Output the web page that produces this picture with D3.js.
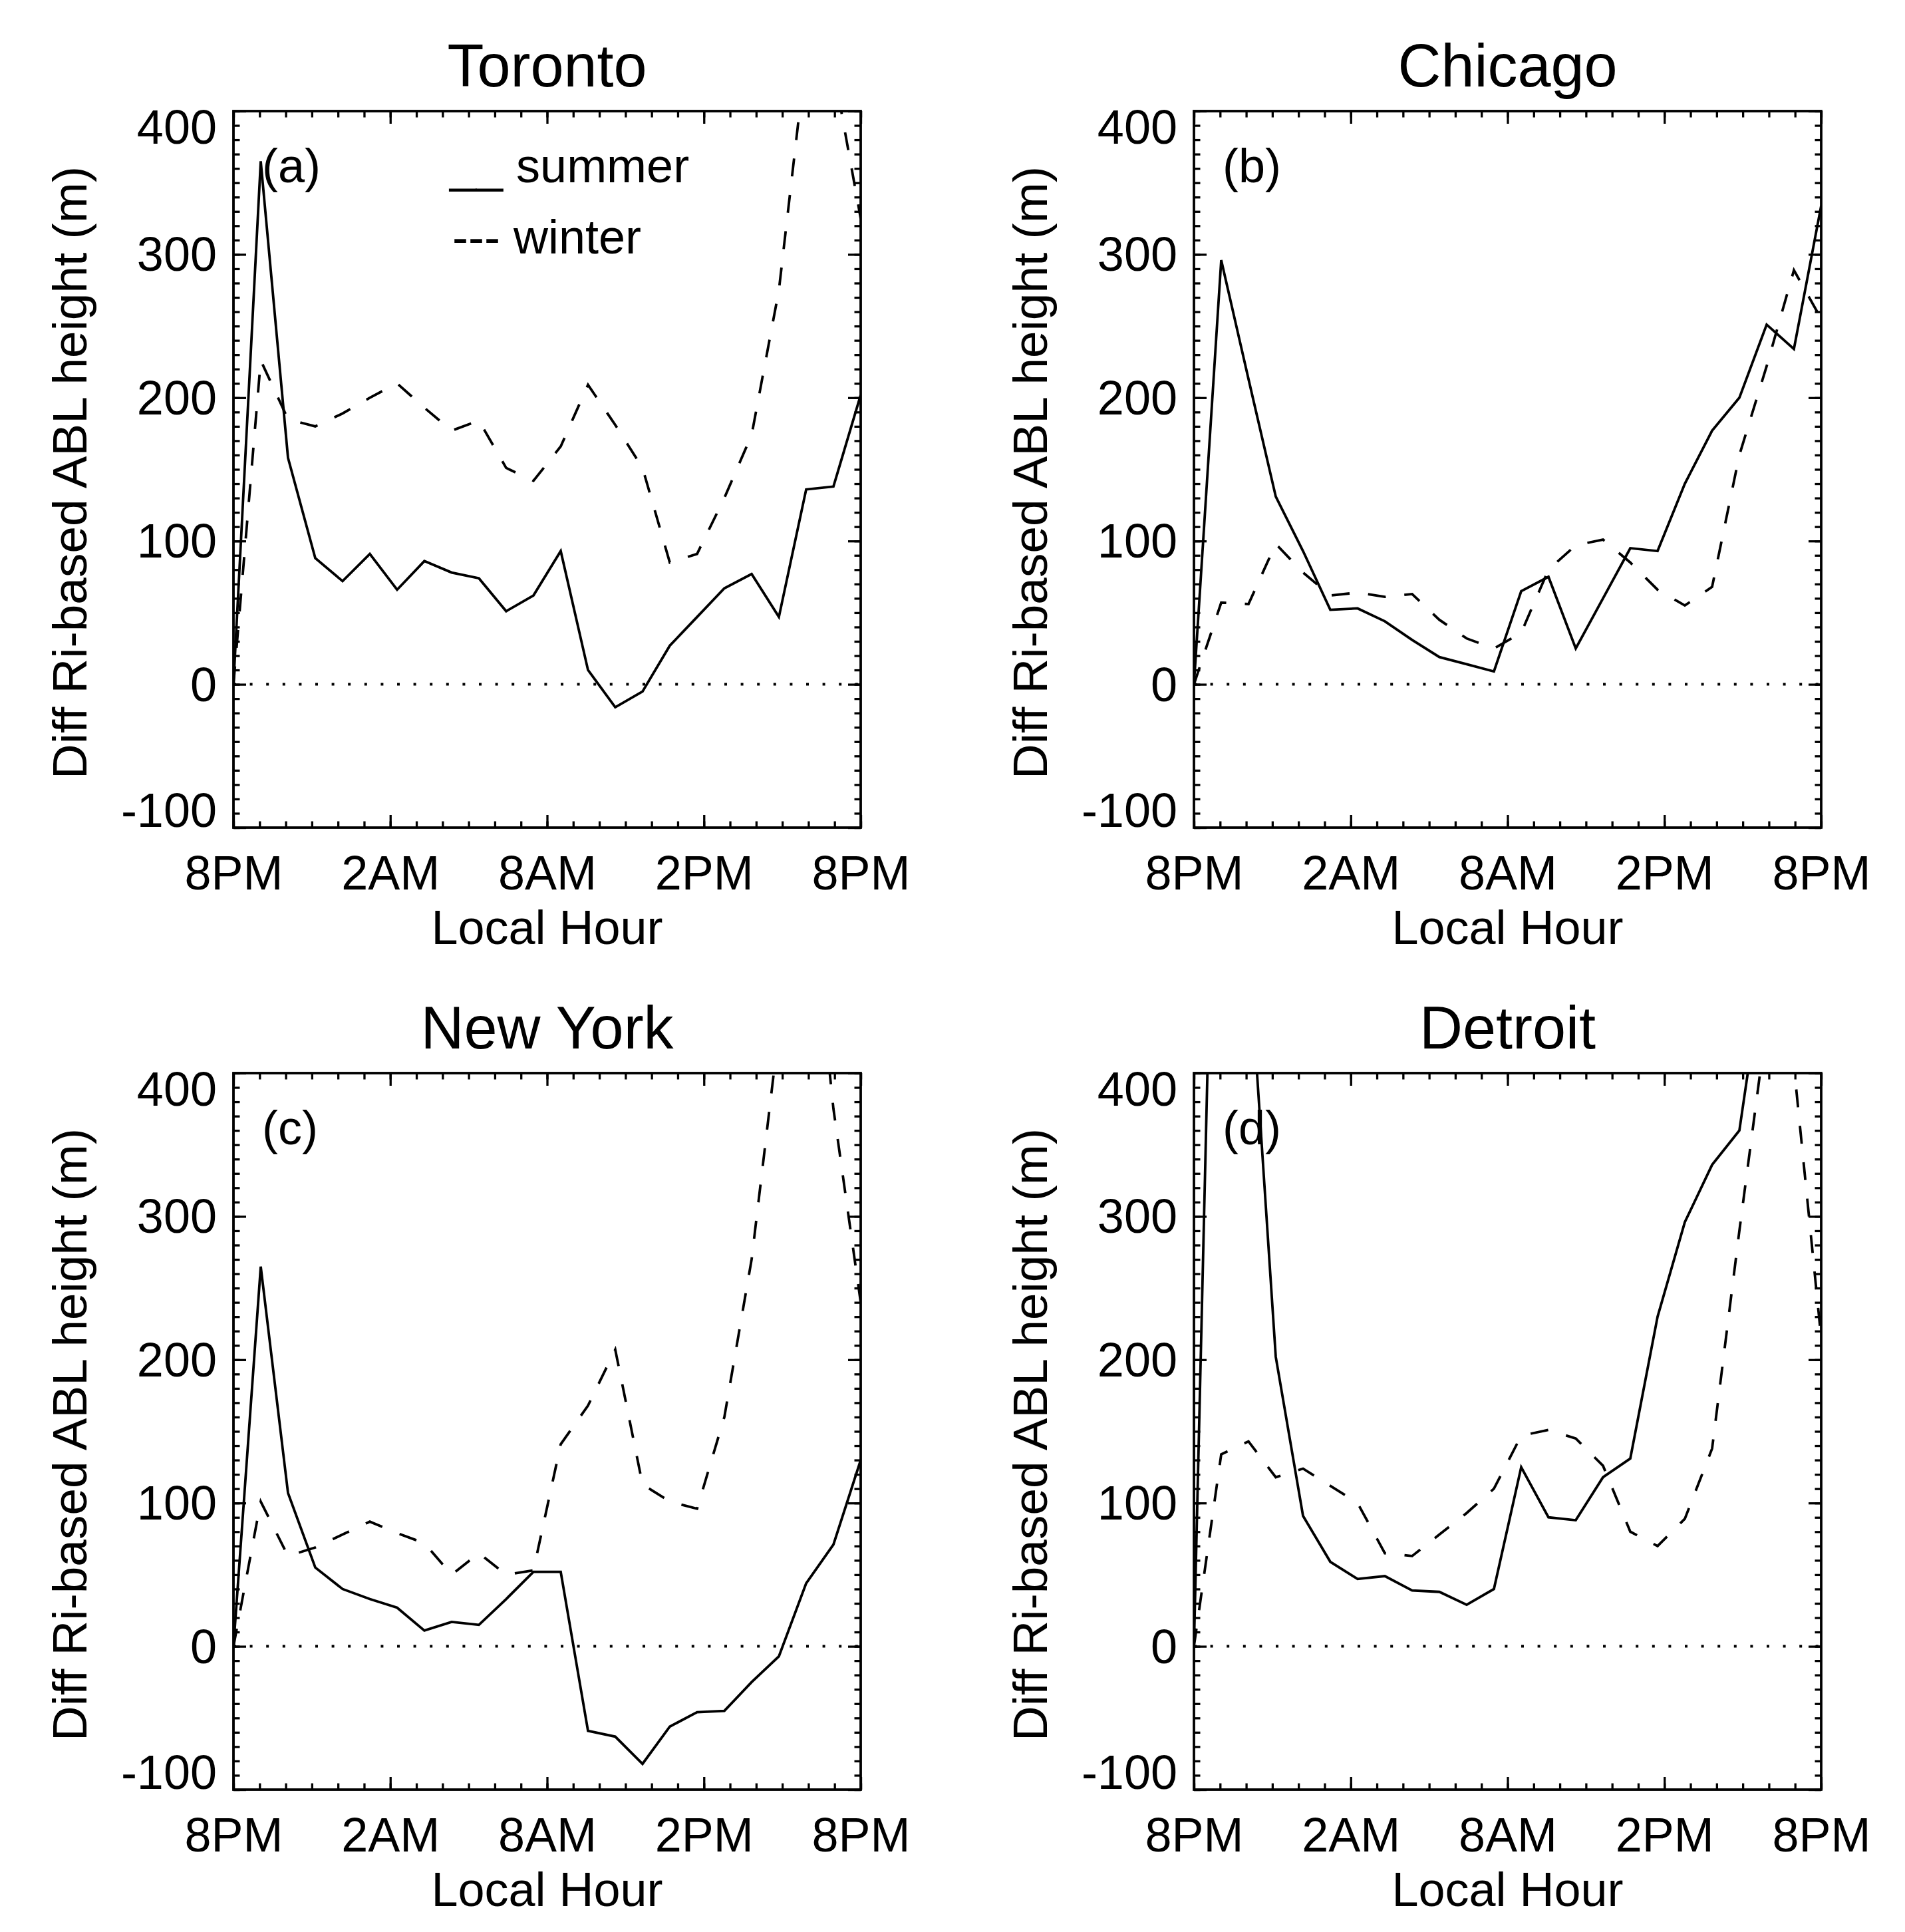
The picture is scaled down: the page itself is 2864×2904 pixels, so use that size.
<!DOCTYPE html>
<html>
<head>
<meta charset="utf-8">
<script src="https://cdn.jsdelivr.net/npm/d3@7"></script>
<style>
  html, body { margin: 0; padding: 0; background: #fff; }
  svg { display: block; }
  text { font-family: "Liberation Sans", Arial, Helvetica, sans-serif; fill: #000; }
</style>
</head>
<body>
<svg id="chart" width="2864" height="2904"></svg>
<script>
// ---------------- data ----------------
const cities = ["Toronto", "Chicago", "New York", "Detroit"];
const panelLetters = ["(a)", "(b)", "(c)", "(d)"];
const xTickHours = [0, 6, 12, 18, 24];
const xTickLabels = ["8PM", "2AM", "8AM", "2PM", "8PM"];
const yTicks = [-100, 0, 100, 200, 300, 400];
const yDomain = [-100, 400];
const legendLabels = ["__ summer", "--- winter"];

// 24 values per series, evenly spread from 8PM to 8PM
const torontoSummer = [0, 365, 158, 88, 72, 91, 66, 86, 78, 74, 51, 62, 93, 10, -16, -5, 27, 47, 67, 77, 47, 136, 138, 202];
const torontoWinter = [0, 226, 185, 180, 189, 200, 210, 193, 177, 184, 151, 142, 166, 209, 181, 151, 85, 91, 130, 174, 275, 440, 430, 325];
const chicagoSummer = [0, 296, 213, 131, 93, 52, 53, 44, 31, 19, 14, 9, 65, 75, 25, 60, 95, 93, 140, 177, 200, 251, 234, 334];
const chicagoWinter = [0, 57, 56, 98, 78, 62, 64, 61, 63, 45, 32, 25, 36, 80, 97, 101, 85, 66, 55, 68, 160, 222, 289, 255];
const newYorkSummer = [0, 265, 107, 55, 40, 33, 27, 11, 17, 15, 33, 52, 52, -59, -63, -82, -56, -46, -45, -25, -7, 44, 71, 130];
const newYorkWinter = [0, 101, 63, 69, 78, 87, 79, 72, 50, 65, 50, 53, 141, 168, 207, 113, 101, 96, 160, 270, 430, 560, 375, 240];
const detroitSummer = [0, 810, 490, 202, 91, 59, 47, 49, 39, 38, 29, 40, 125, 90, 88, 118, 131, 230, 296, 336, 360, 490, 560, 620];
const detroitWinter = [0, 134, 143, 118, 124, 112, 100, 65, 63, 78, 93, 110, 147, 151, 145, 126, 80, 70, 89, 138, 290, 435, 405, 215];

const summerSeries = [torontoSummer, chicagoSummer, newYorkSummer, detroitSummer];
const winterSeries = [torontoWinter, chicagoWinter, newYorkWinter, detroitWinter];

// ---------------- layout ----------------
const panelLefts = [351, 1795, 351, 1795];
const panelTops = [167, 167, 1613, 1613];
const W = 943, H = 1077;
const FS = 72, TITLE_FS = 90, YLAB_FS = 73;
const LW = 3.8;

const svg = d3.select("#chart");
svg.append("rect").attr("width", 2864).attr("height", 2904).attr("fill", "#fff");

const minorHours = d3.range(0, 25, 1);
const minorY = d3.range(-100, 401, 10);

cities.forEach((city, p) => {
  const g = svg.append("g").attr("transform", `translate(${panelLefts[p]},${panelTops[p]})`);
  const nPts = summerSeries[p].length;
  const x = d3.scaleLinear().domain([0, nPts - 1]).range([0, W]);
  const xt = d3.scaleLinear().domain([0, 24]).range([0, W]);
  const y = d3.scaleLinear().domain(yDomain).range([H, 0]);

  const clipId = "clip" + p;
  g.append("clipPath").attr("id", clipId).append("rect")
    .attr("x", 0).attr("y", 0).attr("width", W).attr("height", H);

  function styleAxis(sel) {
    sel.select(".domain").remove();
    sel.selectAll("line").attr("stroke", "#000").attr("stroke-width", 3.3);
    sel.attr("font-family", null).attr("font-size", null);
    sel.selectAll("text").attr("font-size", FS).attr("fill", "#000");
  }

  // minor ticks on all four sides (inward)
  g.append("g").attr("transform", `translate(0,${H})`)
    .call(d3.axisBottom(xt).tickValues(minorHours).tickSize(-9.5).tickFormat("")).call(styleAxis);
  g.append("g")
    .call(d3.axisTop(xt).tickValues(minorHours).tickSize(-9.5).tickFormat("")).call(styleAxis);
  g.append("g")
    .call(d3.axisLeft(y).tickValues(minorY).tickSize(-9.5).tickFormat("")).call(styleAxis);
  g.append("g").attr("transform", `translate(${W},0)`)
    .call(d3.axisRight(y).tickValues(minorY).tickSize(-9.5).tickFormat("")).call(styleAxis);

  // major ticks with labels (bottom, left) and mirrored (top, right)
  g.append("g").attr("transform", `translate(0,${H})`)
    .call(d3.axisBottom(xt).tickValues(xTickHours).tickSize(-19).tickPadding(42)
      .tickFormat((d, i) => xTickLabels[i]))
    .call(styleAxis);
  g.append("g")
    .call(d3.axisTop(xt).tickValues(xTickHours).tickSize(-19).tickFormat("")).call(styleAxis);
  const yAx = g.append("g")
    .call(d3.axisLeft(y).tickValues(yTicks).tickSize(-19).tickPadding(25).tickFormat(d => String(d)))
    .call(styleAxis);
  yAx.selectAll(".tick text")
    .attr("dy", d => d === yDomain[1] ? "0.68em" : (d === yDomain[0] ? "-0.02em" : "0.34em"));
  g.append("g").attr("transform", `translate(${W},0)`)
    .call(d3.axisRight(y).tickValues(yTicks).tickSize(-19).tickFormat("")).call(styleAxis);

  // frame
  g.append("rect").attr("x", 0).attr("y", 0).attr("width", W).attr("height", H)
    .attr("fill", "none").attr("stroke", "#000").attr("stroke-width", LW);

  // zero dotted line
  g.append("line").attr("x1", 0).attr("x2", W).attr("y1", y(0)).attr("y2", y(0))
    .attr("stroke", "#000").attr("stroke-width", 4).attr("stroke-dasharray", "4,20.6");

  const line = d3.line().x((d, i) => x(i)).y(d => y(d));
  const plot = g.append("g").attr("clip-path", `url(#${clipId})`);
  plot.append("path").datum(summerSeries[p]).attr("d", line)
    .attr("fill", "none").attr("stroke", "#000").attr("stroke-width", LW)
    .attr("stroke-linejoin", "miter");
  plot.append("path").datum(winterSeries[p]).attr("d", line)
    .attr("fill", "none").attr("stroke", "#000").attr("stroke-width", LW)
    .attr("stroke-dasharray", "27,28");

  // title
  g.append("text").attr("x", W / 2).attr("y", -37).attr("text-anchor", "middle")
    .attr("font-size", TITLE_FS).text(city);
  // x label
  g.append("text").attr("x", W / 2).attr("y", H + 175).attr("text-anchor", "middle")
    .attr("font-size", FS).text("Local Hour");
  // y label
  g.append("text").attr("transform", `translate(-221,${H / 2 + 5}) rotate(-90)`)
    .attr("text-anchor", "middle").attr("font-size", YLAB_FS).text("Diff Ri-based ABL height (m)");
  // panel letter
  g.append("text").attr("x", 43).attr("y", 107).attr("font-size", FS).text(panelLetters[p]);

  // legend in first panel
  if (p === 0) {
    g.append("text").attr("x", 325).attr("y", 107).attr("font-size", FS).attr("xml:space", "preserve")
      .text(legendLabels[0]);
    g.append("text").attr("x", 329).attr("y", 214).attr("font-size", FS).attr("xml:space", "preserve")
      .text(legendLabels[1]);
  }
});
</script>
</body>
</html>
